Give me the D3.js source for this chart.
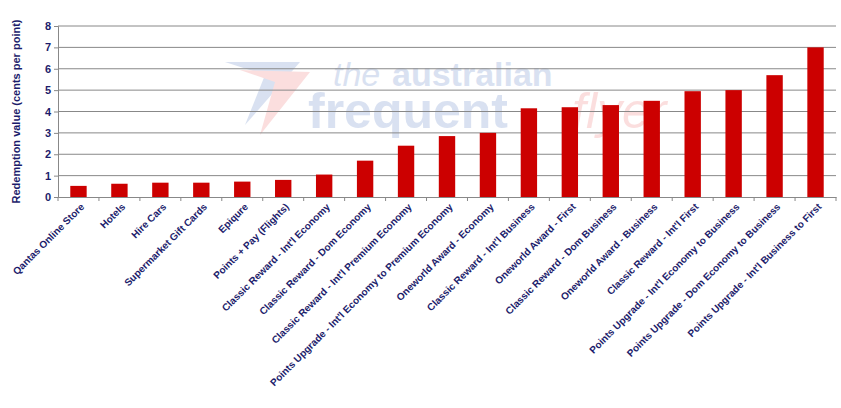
<!DOCTYPE html><html><head><meta charset="utf-8">
<script src="https://cdn.jsdelivr.net/npm/d3@7"></script>
<style>body{margin:0;background:#fff}</style></head><body><svg id="c" width="841" height="408"></svg>
<script>
const categories=["Qantas Online Store","Hotels","Hire Cars","Supermarket Gift Cards","Epiqure","Points + Pay (Flights)","Classic Reward - Int'l Economy","Classic Reward - Dom Economy","Classic Reward - Int'l Premium Economy","Points Upgrade - Int'l Economy to Premium Economy","Oneworld Award - Economy","Classic Reward - Int'l Business","Oneworld Award - First","Classic Reward - Dom Business","Oneworld Award - Business","Classic Reward - Int'l First","Points Upgrade - Int'l Economy to Business","Points Upgrade - Dom Economy to Business","Points Upgrade - Int'l Business to First"];
const values=[0.52,0.62,0.67,0.67,0.72,0.8,1.05,1.7,2.4,2.85,3.0,4.15,4.2,4.3,4.5,4.95,5.0,5.7,7.0];
const yTicks=[0,1,2,3,4,5,6,7,8];
const svg=d3.select("#c");
const m={l:58,r:836,t:26,b:197};
const x=d3.scaleBand().domain(categories).range([m.l,m.r]).paddingInner(0.6).paddingOuter(0.3);
const y=d3.scaleLinear().domain([0,8]).range([m.b,m.t]);
const navy="#1c1c6b";
const wm=svg.append("g").attr("opacity",0.25);
wm.append("path").attr("d","M225,62 L300,62 L245,125 L265,75 Z").attr("fill","#6a8ac8");
wm.append("path").attr("d","M240,70 L310,72 L260,135 L275,82 Z").attr("fill","#f08080");
wm.append("text").attr("x",333).attr("y",86).attr("font-family","Liberation Sans").attr("font-style","italic").attr("font-size",34).attr("fill","#6a8ac8").text("the");
wm.append("text").attr("x",392).attr("y",86).attr("font-family","Liberation Sans").attr("font-weight","bold").attr("font-size",34).attr("fill","#6a8ac8").text("australian");
wm.append("text").attr("x",308).attr("y",128).attr("font-family","Liberation Sans").attr("font-weight","bold").attr("font-size",50).attr("fill","#6a8ac8").text("frequent");
wm.append("text").attr("x",572).attr("y",128).attr("font-family","Liberation Sans").attr("font-style","italic").attr("font-size",50).attr("fill","#f08080").text("flyer");
svg.append("g").selectAll("line").data(yTicks.slice(1)).join("line")
 .attr("x1",m.l).attr("x2",m.r).attr("y1",d=>y(d)).attr("y2",d=>y(d)).attr("stroke","#888").attr("stroke-width",1);
svg.append("g").selectAll("rect").data(values).join("rect")
 .attr("x",(d,i)=>x(categories[i])).attr("width",x.bandwidth()).attr("y",d=>y(d)).attr("height",d=>y(0)-y(d)).attr("fill","#cc0000");
const ya=svg.append("g").attr("transform",`translate(${m.l},0)`).call(d3.axisLeft(y).tickValues(yTicks).tickSize(4));
ya.selectAll("text").attr("font-family","Liberation Sans").attr("font-weight","bold").attr("font-size",11).attr("fill",navy);
ya.selectAll("line,path").attr("stroke","#888");
const xa=svg.append("g").attr("transform",`translate(0,${m.b})`).call(d3.axisBottom(x).tickSize(0).tickPadding(0));
xa.select("path").attr("stroke","#888");
const step=x.step();
xa.selectAll(".bx").data(d3.range(categories.length+1)).join("line").attr("x1",i=>m.l+i*step).attr("x2",i=>m.l+i*step).attr("y1",0).attr("y2",4).attr("stroke","#888");
xa.selectAll(".tick text").attr("font-family","Liberation Sans").attr("font-weight","bold").attr("font-size",10).attr("fill",navy)
 .attr("text-anchor","end").attr("transform","translate(4,8) rotate(-45)").attr("dy","0.35em");
svg.append("text").attr("transform",`translate(20,${(m.t+m.b)/2}) rotate(-90)`).attr("text-anchor","middle")
 .attr("font-family","Liberation Sans").attr("font-weight","bold").attr("font-size",11).attr("fill",navy).text("Redemption value (cents per point)");
</script></body></html>
